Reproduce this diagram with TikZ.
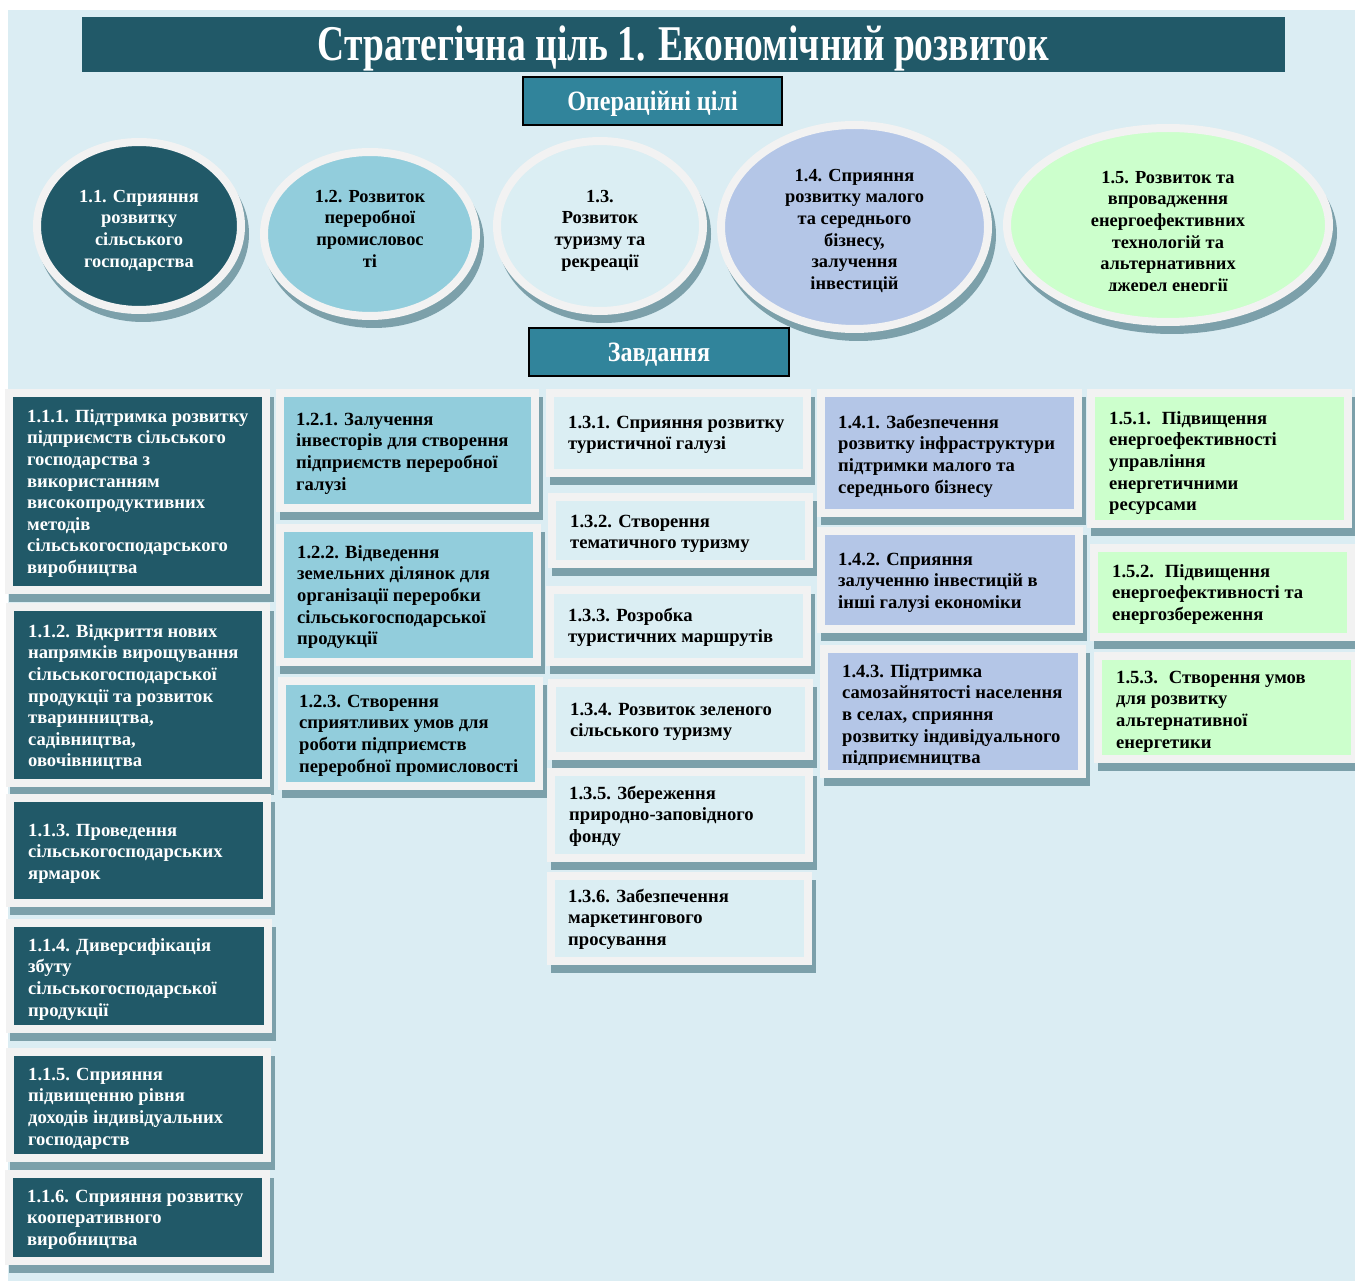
\documentclass[tikz,border=0pt]{standalone}
\usepackage{fontspec}
\setmainfont{Liberation Serif}
\usetikzlibrary{shapes.geometric}
\definecolor{bgc}{HTML}{DBEDF3}
\definecolor{titlec}{HTML}{215968}
\definecolor{subc}{HTML}{31849B}
\definecolor{fill1}{HTML}{215968}
\definecolor{fill2}{HTML}{92CDDC}
\definecolor{fill3}{HTML}{DBEEF3}
\definecolor{fill4}{HTML}{B4C6E7}
\definecolor{fill5}{HTML}{CCFFCC}
\definecolor{framec}{HTML}{F2F2F2}
\definecolor{shadowc}{HTML}{7CA0AA}
\tikzset{
  bx1/.style={fill=fill1}, bx2/.style={fill=fill2}, bx3/.style={fill=fill3},
  bx4/.style={fill=fill4}, bx5/.style={fill=fill5},
  tx1/.style={text=white}, tx2/.style={text=black}, tx3/.style={text=black},
  tx4/.style={text=black}, tx5/.style={text=black},
  tframe/.style={rectangle, draw=framec, line width=8pt, inner sep=0pt, outer sep=0pt},
  eframe/.style={ellipse, draw=framec, line width=8pt, inner sep=0pt, outer sep=0pt},
  ttext/.style={anchor=north west, align=left, inner sep=0pt, font=\fontsize{18.6}{21.6}\selectfont\bfseries},
  etext/.style={anchor=north, align=center, inner sep=0pt, font=\fontsize{18.4}{21.6}\selectfont\bfseries},
  titlebar/.style={rectangle, fill=titlec, text=white, inner sep=0pt, text height=33pt, text depth=0pt, font=\fontsize{50}{54}\selectfont\bfseries},
  subbox/.style={rectangle, fill=subc, draw=black, line width=2pt, text=white, inner sep=0pt, text height=19pt, text depth=0pt, font=\fontsize{28}{30}\selectfont\bfseries}
}
% name, x1, y1, x2, y2, colour index, text x, first line y, text
\newcommand\tbox[9]{%
  \fill[shadowc] (#2+4,#3+8) rectangle (#4+4,#5+8);
  \node[tframe,bx#6,minimum width={#4-#2-8},minimum height={#5-#3-8}] (#1) at ({(#2+#4)/2},{(#3+#5)/2}) {};
  \node[ttext,tx#6] (#1t) at (#7,#8-11) {\strut #9};
}
% name, cx, cy, rx, ry, colour index
\newcommand\ebox[6]{%
  \fill[shadowc] (#2+4,#3+8) ellipse [x radius=#4pt, y radius=#5pt];
  \node[eframe,bx#6,minimum width={2*#4-8},minimum height={2*#5-8}] (#1) at (#2,#3) {};
}
\begin{document}
\begin{tikzpicture}[x=1pt,y=-1pt]
\useasboundingbox (0,0) rectangle (1355,1281);
\fill[white] (0,0) rectangle (1355,1281);
\fill[bgc] (8,10) rectangle (1355,1281);

\node[titlebar, minimum width=1203pt, minimum height=55pt] (title) at (683.5,44.5) {\scalebox{0.75}[1]{Стратегічна ціль 1. Економічний розвиток}};

% ellipses
\ebox{e1}{139}{226}{106}{88}{1}
\ebox{e2}{370}{234}{110}{86}{2}
\ebox{e3}{600}{226}{107}{89}{3}
\ebox{e4}{854.5}{227}{137.5}{106}{4}
\ebox{e5}{1168}{225}{165}{101}{5}

\node[etext,tx1] (e1t) at (139,198-11) {\strut 1.1. Сприяння\\розвитку\\сільського\\господарства};
\node[etext,tx2] (e2t) at (370,198-11) {\strut 1.2. Розвиток\\переробної\\промисловос\\ті};
\node[etext,tx3] (e3t) at (600,198-11) {\strut 1.3.\\Розвиток\\туризму та\\рекреації};
\node[etext,tx4] (e4t) at (854.5,177-11) {\strut 1.4. Сприяння\\розвитку малого\\та середнього\\бізнесу,\\залучення\\інвестицій};
\begin{scope}
\clip (1000,150) rectangle (1340,291);
\node[etext,tx5] (e5t) at (1168,179-11) {\strut 1.5. Розвиток та\\впровадження\\енергоефективних\\технологій та\\альтернативних\\джерел енергії};
\end{scope}

\node[subbox, minimum width=259pt, minimum height=48pt] (ops) at (652.5,101) {\scalebox{0.86}[1]{Операційні цілі}};
\node[subbox, minimum width=260pt, minimum height=48pt] (tasks) at (659,352) {\scalebox{0.86}[1]{Завдання}};

% column 1
\tbox{b111}{5}{389}{270}{594}{1}{27}{418}{1.1.1. Підтримка розвитку\\підприємств сільського\\господарства з\\використанням\\високопродуктивних\\методів\\сільськогосподарського\\виробництва}
\tbox{b112}{6}{603}{270}{787}{1}{28}{633}{1.1.2. Відкриття нових\\напрямків вирощування\\сільськогосподарської\\продукції та розвиток\\тваринництва,\\садівництва,\\овочівництва}
\tbox{b113}{6}{794}{271}{907}{1}{28}{832}{1.1.3. Проведення\\сільськогосподарських\\ярмарок}
\tbox{b114}{6}{919}{272}{1033}{1}{28}{947}{1.1.4. Диверсифікація\\збуту\\сільськогосподарської\\продукції}
\tbox{b115}{6}{1048}{271}{1162}{1}{28}{1076}{1.1.5. Сприяння\\підвищенню рівня\\доходів індивідуальних\\господарств}
\tbox{b116}{5}{1170}{270}{1265}{1}{27}{1198}{1.1.6. Сприяння розвитку\\кооперативного\\виробництва}

% column 2
\tbox{b121}{276}{389}{539}{512}{2}{296}{421}{1.2.1. Залучення\\інвесторів для створення\\підприємств переробної\\галузі}
\tbox{b122}{276}{524}{541}{666}{2}{297}{554}{1.2.2. Відведення\\земельних ділянок для\\організації переробки\\сільськогосподарської\\продукції}
\tbox{b123}{278}{677}{543}{790}{2}{299}{703}{1.2.3. Створення\\сприятливих умов для\\роботи підприємств\\переробної промисловості}

% column 3
\tbox{b131}{546}{389}{811}{477}{3}{568}{424}{1.3.1. Сприяння розвитку\\туристичної галузі}
\tbox{b132}{548}{493}{813}{568}{3}{570}{523}{1.3.2. Створення\\тематичного туризму}
\tbox{b133}{546}{586}{811}{666}{3}{568}{617}{1.3.3. Розробка\\туристичних маршрутів}
\tbox{b134}{548}{679}{813}{760}{3}{570}{711}{1.3.4. Розвиток зеленого\\сільського туризму}
\tbox{b135}{547}{768}{813}{862}{3}{569}{795}{1.3.5. Збереження\\природно-заповідного\\фонду}
\tbox{b136}{547}{872}{812}{965}{3}{568}{898}{1.3.6. Забезпечення\\маркетингового\\просування}

% column 4
\tbox{b141}{817}{389}{1082}{517}{4}{838}{424}{1.4.1. Забезпечення\\розвитку інфраструктури\\підтримки малого та\\середнього бізнесу}
\tbox{b142}{817}{527}{1083}{633}{4}{838}{561}{1.4.2. Сприяння\\залученню інвестицій в\\інші галузі економіки}
\fill[shadowc] (824,653) rectangle (1090,786);
\node[tframe,bx4,minimum width=258pt,minimum height=125pt] (b143) at (953,711.5) {};
\begin{scope}
\clip (820,645) rectangle (1086,764);
\node[ttext,tx4] (b143t) at (842,673-11) {\strut 1.4.3. Підтримка\\самозайнятості населення\\в селах, сприяння\\розвитку індивідуального\\підприємництва};
\end{scope}

% column 5
\tbox{b151}{1087}{389}{1352}{528}{5}{1109}{420}{1.5.1.~ Підвищення\\енергоефективності\\управління\\енергетичними\\ресурсами}
\tbox{b152}{1090}{544}{1355}{641}{5}{1112}{573}{1.5.2.~ Підвищення\\енергоефективності та\\енергозбереження}
\tbox{b153}{1094}{652}{1359}{763}{5}{1116}{679}{1.5.3.~ Створення умов\\для розвитку\\альтернативної\\енергетики}
\end{tikzpicture}
\end{document}
